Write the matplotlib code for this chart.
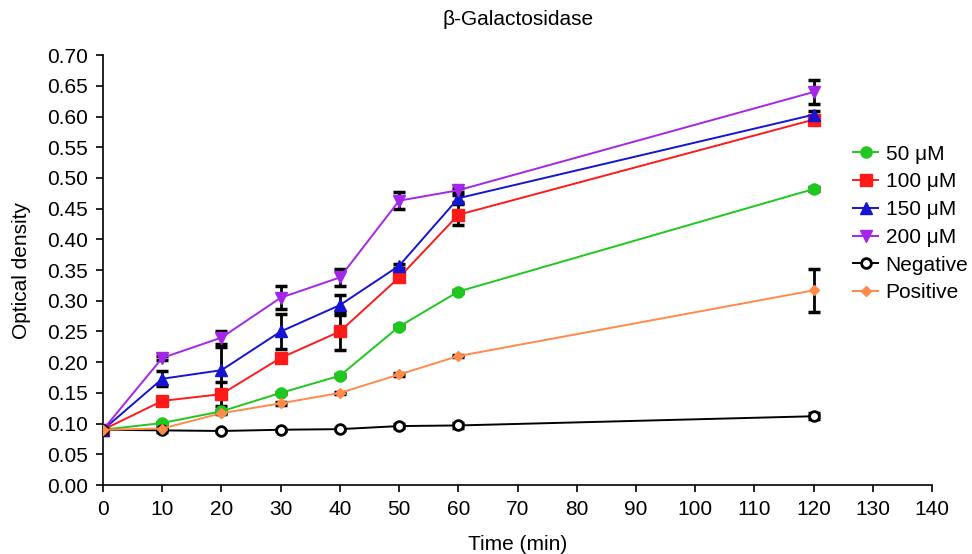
import matplotlib
matplotlib.use("Agg")
import matplotlib.pyplot as plt
import numpy as np

plt.rcParams['font.family'] = ['Liberation Sans', 'DejaVu Sans']

time_min = [0, 10, 20, 30, 40, 50, 60, 120]

od_50 = [0.090, 0.101, 0.120, 0.150, 0.178, 0.258, 0.315, 0.482]
od_100 = [0.090, 0.137, 0.148, 0.207, 0.250, 0.338, 0.440, 0.595]
od_150 = [0.090, 0.173, 0.187, 0.250, 0.293, 0.357, 0.467, 0.603]
od_200 = [0.090, 0.207, 0.240, 0.305, 0.338, 0.463, 0.480, 0.640]
od_neg = [0.090, 0.089, 0.088, 0.090, 0.091, 0.096, 0.097, 0.112]
od_pos = [0.090, 0.092, 0.117, 0.133, 0.150, 0.180, 0.210, 0.317]

err_50 = [0.002, 0.002, 0.002, 0.002, 0.002, 0.002, 0.002, 0.003]
err_100 = [0.002, 0.003, 0.020, 0.003, 0.030, 0.003, 0.017, 0.003]
err_150 = [0.002, 0.012, 0.037, 0.028, 0.016, 0.003, 0.006, 0.006]
err_200 = [0.002, 0.003, 0.010, 0.019, 0.014, 0.014, 0.003, 0.019]
err_neg = [0.002, 0.002, 0.002, 0.002, 0.002, 0.003, 0.004, 0.005]
err_pos = [0.002, 0.002, 0.002, 0.002, 0.002, 0.002, 0.002, 0.035]

series_labels = ['50 \u03bcM', '100 \u03bcM', '150 \u03bcM', '200 \u03bcM', 'Negative', 'Positive']

x_ticks = list(range(0, 141, 10))
y_ticks = [round(v, 2) for v in np.arange(0, 0.701, 0.05)]

FS = 15

fig = plt.figure(figsize=(9.72, 5.54), dpi=100)
ax = fig.add_axes([0.106, 0.1245, 0.853, 0.776])

styles = [
    (od_50, err_50, '#1ec81e', 'o', 8, '#1ec81e'),
    (od_100, err_100, '#ff1a1a', 's', 8, '#ff1a1a'),
    (od_150, err_150, '#1414d2', '^', 8, '#1414d2'),
    (od_200, err_200, '#a526e8', 'v', 8, '#a526e8'),
    (od_neg, err_neg, '#000000', 'o', 7, 'white'),
    (od_pos, err_pos, '#ff8a4a', 'D', 5, '#ff8a4a'),
]

handles = []
for (vals, errs, color, marker, ms, face), label in zip(styles, series_labels):
    ax.errorbar(time_min, vals, yerr=errs, fmt='none', ecolor='black',
                elinewidth=2.0, capsize=4, capthick=2.5, zorder=3)
    h, = ax.plot(time_min, vals, color=color, marker=marker, markersize=ms,
                 markerfacecolor=face, markeredgecolor=color,
                 markeredgewidth=2.0 if face == 'white' else 1.0,
                 linewidth=1.4, label=label, zorder=4)
    handles.append(h)

ax.set_xlim(0, 140)
ax.set_ylim(0, 0.70)
ax.set_xticks(x_ticks)
ax.set_yticks(y_ticks)
ax.set_yticklabels([f"{v:.2f}" for v in y_ticks])
ax.tick_params(axis='both', labelsize=FS, direction='out', length=5, width=1.2, pad=6)
for side in ('top', 'right'):
    ax.spines[side].set_visible(False)
for side in ('left', 'bottom'):
    ax.spines[side].set_linewidth(1.2)

ax.set_xlabel('Time (min)', fontsize=FS, labelpad=11)
ax.set_ylabel('Optical density', fontsize=FS, labelpad=11)
ax.set_title('\u03b2-Galactosidase', fontsize=FS, pad=22)

fig.legend(handles=handles, loc='upper left', bbox_to_anchor=(0.878, 0.739),
           frameon=False, fontsize=FS, handlelength=1.2, handletextpad=0.35,
           labelspacing=0.42, borderaxespad=0, borderpad=0)

fig.savefig('out.png', dpi=100)
